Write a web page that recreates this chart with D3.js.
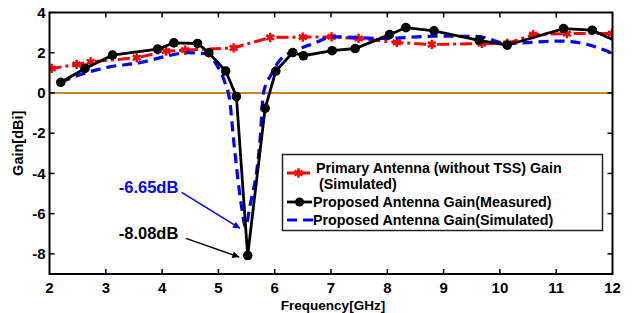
<!DOCTYPE html>
<html><head><meta charset="utf-8">
<script src="https://cdn.jsdelivr.net/npm/d3@7"></script>
<style>
html,body{margin:0;padding:0;background:#fff;}
svg text{font-family:"Liberation Sans",Arial,Helvetica,sans-serif;font-weight:bold;}
</style></head>
<body>
<svg id="c" width="633" height="313"></svg>
<script>
// ---- data ----
const xTicks = [2,3,4,5,6,7,8,9,10,11,12];
const yTicks = [-8,-6,-4,-2,0,2,4];
const seriesNames = ["Primary Antenna (without TSS) Gain", "(Simulated)", "Proposed Antenna Gain(Measured)", "Proposed Antenna Gain(Simulated)"];

const primaryFreq = [2.0,2.04,2.48,2.73,3.55,4.07,4.41,5.27,5.92,6.5,7.01,7.49,8.17,8.79,9.68,10.13,10.59,11.19,11.99];
const primaryGain = [1.22,1.22,1.42,1.55,1.75,2.08,2.13,2.24,2.76,2.78,2.79,2.71,2.51,2.41,2.46,2.46,2.9,2.95,2.95];

const measFreq = [2.2,2.63,3.12,3.92,4.21,4.63,4.83,5.13,5.32,5.52,5.83,6.02,6.32,6.51,7.02,7.43,8.04,8.33,8.83,9.63,10.13,11.13,11.64,12.0];
const measGain = [0.53,1.22,1.88,2.18,2.49,2.46,2.0,1.09,-0.18,-8.08,-0.76,1.09,2.01,1.85,2.1,2.21,2.9,3.25,3.09,2.62,2.38,3.2,3.12,2.66];

const simFreq = [2.2,2.54,3.07,3.6,4.08,4.44,4.76,4.97,5.12,5.2,5.27,5.41,5.48,5.56,5.74,5.8,5.95,6.09,6.39,6.69,7.04,7.93,8.82,9.59,10.12,11.07,11.54,12.0];
const simGain = [0.53,0.9,1.3,1.5,1.83,2.0,1.96,1.39,0.48,-0.35,-2.33,-5.63,-6.65,-5.63,-2.33,0,0.97,1.63,2.13,2.46,2.79,2.71,2.82,2.82,2.46,2.58,2.42,1.96];

const annotations = [
  {text:"-6.65dB", color:"#0000ff", tx:3.23, ty:-4.97, x1:4.348, y1:-4.94, x2:5.384, y2:-6.73},
  {text:"-8.08dB", color:"#000000", tx:3.23, ty:-7.26, x1:4.425, y1:-7.23, x2:5.371, y2:-8.16}
];

// ---- layout ----
const svg = d3.select("#c");
const L=49.5, R=612.5, T=12.5, B=274;
const x = d3.scaleLinear().domain([2,12]).range([L,R]);
const y = d3.scaleLinear().domain([-9,4]).range([B,T]);

const defs = svg.append("defs");
defs.append("clipPath").attr("id","clip").append("rect")
  .attr("x",L).attr("y",T).attr("width",R-L).attr("height",B-T);
["#0000ff","#000000"].forEach((c,i)=>{
  defs.append("marker").attr("id","arr"+i).attr("viewBox","0 0 10 10")
    .attr("refX",10).attr("refY",5).attr("markerWidth",9).attr("markerHeight",7)
    .attr("markerUnits","userSpaceOnUse").attr("orient","auto")
    .append("path").attr("d","M0,0L10,5L0,10z").attr("fill",c);
});

// zero line
svg.append("line").attr("x1",L).attr("x2",R).attr("y1",y(0)).attr("y2",y(0))
  .attr("stroke","#c08a30").attr("stroke-width",2);

const g = svg.append("g").attr("clip-path","url(#clip)");
const line = d3.line().x(d=>x(d[0])).y(d=>y(d[1]));
const zip = (a,b)=>a.map((v,i)=>[v,b[i]]);

// red primary
const red = zip(primaryFreq, primaryGain);
g.append("path").datum(red).attr("d",line).attr("fill","none")
  .attr("stroke","#ff0000").attr("stroke-width",3).attr("stroke-dasharray","12,4,3,4");
const star = d3.symbol().type(d3.symbolAsterisk).size(60);
g.selectAll(".rm").data(red.slice(1)).join("path").attr("class","rm")
  .attr("d",star).attr("transform",d=>`translate(${x(d[0])},${y(d[1])})`)
  .attr("fill","none").attr("stroke","#ff0000").attr("stroke-width",2.5);

// blue simulated
const blue = zip(simFreq, simGain);
g.append("path").datum(blue).attr("d",line.curve(d3.curveMonotoneX)).attr("fill","none")
  .attr("stroke","#0000ff").attr("stroke-width",3.2).attr("stroke-dasharray","10,6");
line.curve(d3.curveLinear);

// black measured
const blk = zip(measFreq, measGain);
g.append("path").datum(blk).attr("d",line).attr("fill","none")
  .attr("stroke","#000").attr("stroke-width",2.8);
g.selectAll(".bm").data(blk.slice(0,-1)).join("circle").attr("class","bm")
  .attr("cx",d=>x(d[0])).attr("cy",d=>y(d[1])).attr("r",4.8).attr("fill","#000");

// axes box
svg.append("rect").attr("x",L).attr("y",T).attr("width",R-L).attr("height",B-T)
  .attr("fill","none").attr("stroke","#000").attr("stroke-width",2);
const tl=5;
xTicks.slice(1,-1).forEach(t=>{
  svg.append("line").attr("x1",x(t)).attr("x2",x(t)).attr("y1",B).attr("y2",B-tl).attr("stroke","#000").attr("stroke-width",1.5);
  svg.append("line").attr("x1",x(t)).attr("x2",x(t)).attr("y1",T).attr("y2",T+tl).attr("stroke","#000").attr("stroke-width",1.5);
});
yTicks.slice(0,-1).forEach(t=>{
  svg.append("line").attr("x1",L).attr("x2",L+tl).attr("y1",y(t)).attr("y2",y(t)).attr("stroke","#000").attr("stroke-width",1.5);
  svg.append("line").attr("x1",R).attr("x2",R-tl).attr("y1",y(t)).attr("y2",y(t)).attr("stroke","#000").attr("stroke-width",1.5);
});
svg.selectAll(".xt").data(xTicks).join("text").attr("class","xt")
  .attr("x",d=>x(d)).attr("y",292.5).attr("text-anchor","middle").attr("font-size",15).text(d=>d);
svg.selectAll(".yt").data(yTicks).join("text").attr("class","yt")
  .attr("x",45.5).attr("y",d=>y(d)+5.3).attr("text-anchor","end").attr("font-size",15).text(d=>d);
svg.append("text").attr("x",(L+R)/2+2).attr("y",309.5).attr("text-anchor","middle").attr("font-size",13.5).text("Frequency[GHz]");
svg.append("text").attr("transform",`translate(22.5,${(T+B)/2}) rotate(-90)`).attr("text-anchor","middle").attr("font-size",14.5).text("Gain[dBi]");

// annotations
annotations.forEach((a,i)=>{
  svg.append("text").attr("x",x(a.tx)).attr("y",y(a.ty)).attr("font-size",16.5).attr("fill",a.color).text(a.text);
  svg.append("line").attr("x1",x(a.x1)).attr("y1",y(a.y1)).attr("x2",x(a.x2)).attr("y2",y(a.y2))
    .attr("stroke",a.color).attr("stroke-width",1.5).attr("marker-end",`url(#arr${i})`);
});

// legend
const lg = svg.append("g");
lg.append("rect").attr("x",282.5).attr("y",154.5).attr("width",320).attr("height",76)
  .attr("fill","#fff").attr("stroke","#222").attr("stroke-width",1.5);
const tx0 = 316;
lg.append("text").attr("x",tx0).attr("y",173).attr("font-size",14.3).text(seriesNames[0]);
lg.append("text").attr("x",tx0+3).attr("y",188.5).attr("font-size",14.3).text(seriesNames[1]);
lg.append("text").attr("x",tx0-3).attr("y",207).attr("font-size",14.3).text(seriesNames[2]);
lg.append("text").attr("x",tx0-3).attr("y",225).attr("font-size",14.3).text(seriesNames[3]);
lg.append("line").attr("x1",287).attr("x2",310).attr("y1",173).attr("y2",173)
  .attr("stroke","#ff0000").attr("stroke-width",3).attr("stroke-dasharray","8,2,3,2");
lg.append("path").attr("d",star).attr("transform","translate(298.5,173)")
  .attr("fill","none").attr("stroke","#ff0000").attr("stroke-width",2.5);
lg.append("line").attr("x1",287).attr("x2",312).attr("y1",202).attr("y2",202)
  .attr("stroke","#000").attr("stroke-width",2.8);
lg.append("circle").attr("cx",299.5).attr("cy",202).attr("r",4.5).attr("fill","#000");
lg.append("line").attr("x1",287).attr("x2",313).attr("y1",220).attr("y2",220)
  .attr("stroke","#0000ff").attr("stroke-width",3.2).attr("stroke-dasharray","10,6");
</script>
</body></html>
